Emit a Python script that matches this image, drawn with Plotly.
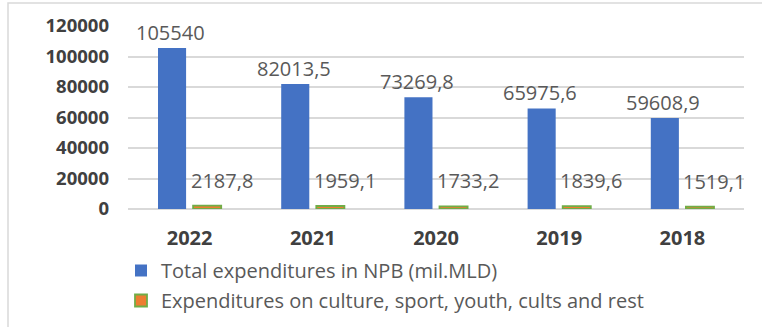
import plotly.graph_objects as go

# Expenditure data (mil. MLD)
years = ["2022", "2021", "2020", "2019", "2018"]
total_npb = [105540, 82013.5, 73269.8, 65975.6, 59608.9]
culture_sport = [2187.8, 1959.1, 1733.2, 1839.6, 1519.1]
series_names = [
    "Total expenditures in NPB (mil.MLD)",
    "Expenditures on culture, sport, youth, cults and rest",
]
y_ticks = [0, 20000, 40000, 60000, 80000, 100000, 120000]

BLUE = "#4472C4"
ORANGE = "#ED7D31"
GREEN = "#70AD47"
GRID = "#d9d9d9"
TEXT = "#595959"
FONT = "Open Sans"

W, H = 762, 327
ML, MR, MT, MB = 128, 18, 26, 118
plot_w = W - ML - MR
plot_h = H - MT - MB


def fmt(v):
    return f"{v:g}".replace(".", ",")


fig = go.Figure()
fig.add_trace(go.Bar(
    x=years, y=total_npb, name=series_names[0], legendgroup="g1",
    marker=dict(color=BLUE, line=dict(width=0)),
))
fig.add_trace(go.Bar(
    x=years, y=culture_sport, name=series_names[1], legendgroup="g2",
    marker=dict(color=ORANGE, line=dict(color=GREEN, width=1.8)),
))

# value labels above each bar (x given as category index)
annotations = []
for i, v in enumerate(total_npb):
    annotations.append(dict(
        x=i, y=v, xref="x", yref="y", text=fmt(v), showarrow=False,
        xanchor="center", yanchor="bottom", xshift=-19, yshift=0,
        font=dict(family=FONT, size=20, color=TEXT),
    ))
for i, v in enumerate(culture_sport):
    annotations.append(dict(
        x=i, y=v, xref="x", yref="y", text=fmt(v), showarrow=False,
        xanchor="center", yanchor="bottom", xshift=32, yshift=10,
        font=dict(family=FONT, size=20, color=TEXT),
    ))

# light outer frame of the chart area
frame = dict(
    type="rect", xref="paper", yref="paper",
    x0=(8 - ML) / plot_w, x1=(W + 10 - ML) / plot_w,
    y0=-(H + 10 - (H - MB)) / plot_h, y1=((H - MB) - 3) / plot_h,
    line=dict(color=GRID, width=1.5), fillcolor="rgba(0,0,0,0)", layer="below",
)

fig.update_layout(
    width=W, height=H,
    margin=dict(l=ML, r=MR, t=MT, b=MB, pad=0, autoexpand=False),
    paper_bgcolor="white", plot_bgcolor="white",
    barmode="group", bargap=0.43, bargroupgap=0.2,
    showlegend=True,
    legend=dict(
        orientation="v", x=(121 - ML) / plot_w, y=-(251 - (H - MB)) / plot_h,
        xanchor="left", yanchor="top",
        font=dict(family=FONT, size=20, color=TEXT),
        itemwidth=30, tracegroupgap=1, bgcolor="rgba(0,0,0,0)",
    ),
    annotations=annotations,
    shapes=[frame],
)
fig.update_xaxes(
    type="category", categoryorder="array", categoryarray=years,
    range=[-0.5, len(years) - 0.5], autorange=False,
    showgrid=False, showline=False, zeroline=False,
    tickfont=dict(family=FONT, size=20, color="#404040", weight="bold"),
    ticklabelstandoff=15,
)
fig.update_yaxes(
    range=[0, 120000], autorange=False,
    tickvals=y_ticks, ticktext=[str(t) for t in y_ticks],
    showgrid=True, gridcolor=GRID, gridwidth=1.5,
    zeroline=True, zerolinecolor=GRID, zerolinewidth=1.5,
    showline=False,
    tickfont=dict(family=FONT, size=18.5, color="#404040", weight="bold"),
    ticklabelstandoff=18,
)

fig.write_html("out.html")
